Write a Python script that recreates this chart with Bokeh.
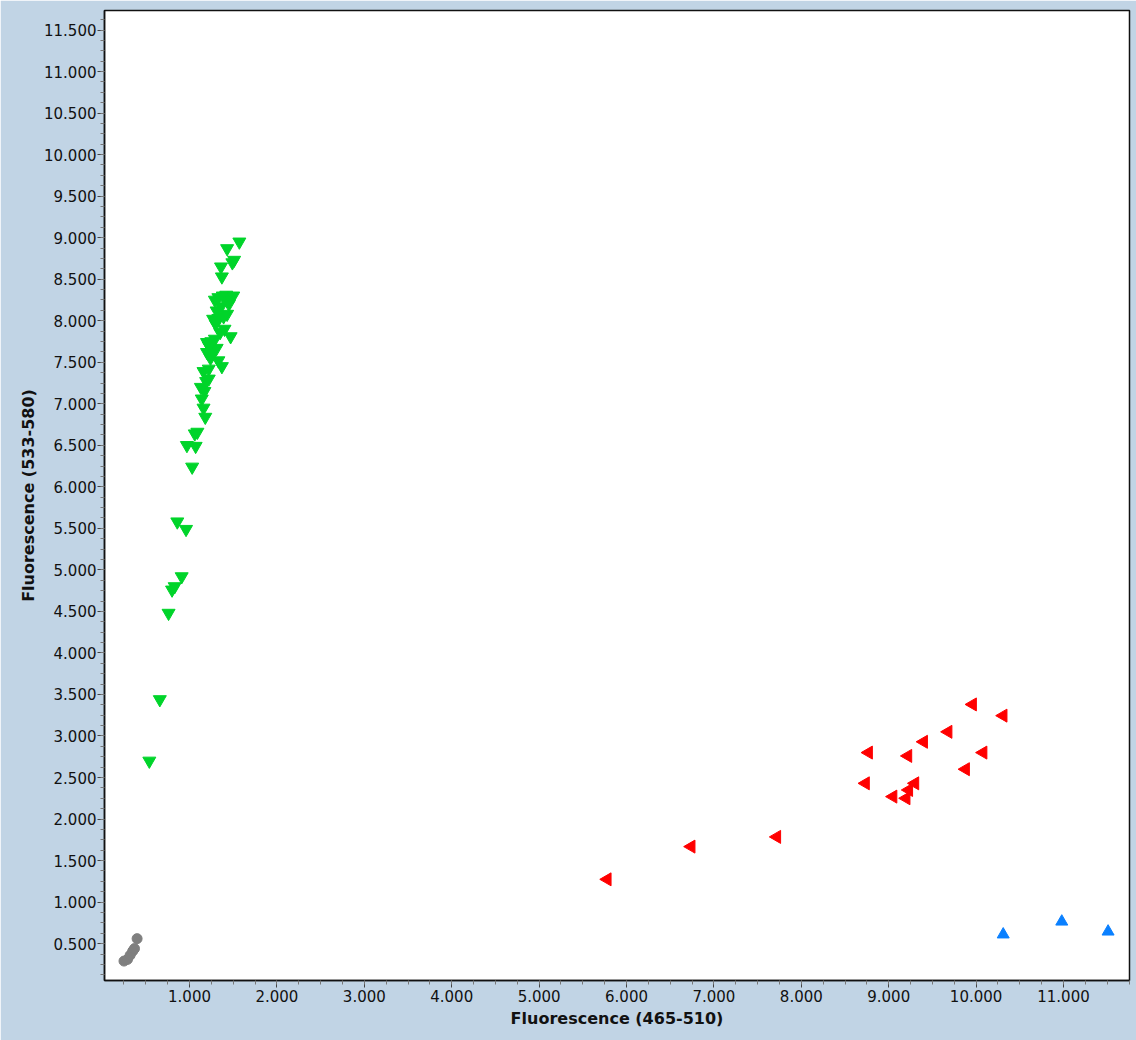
import math
from bokeh.plotting import figure
from bokeh.models import SingleIntervalTicker, NumeralTickFormatter, Range1d
from bokeh.embed import file_html
from bokeh.resources import INLINE

# ---- data ----
gray_x = [0.25, 0.29, 0.32, 0.35, 0.37, 0.40]
gray_y = [0.29, 0.31, 0.36, 0.41, 0.44, 0.56]

green_x = [0.54, 0.66, 0.76, 0.80, 0.83, 0.91, 0.86, 0.96, 1.03, 0.97,
           1.07, 1.09, 1.06, 1.18, 1.16, 1.14, 1.17, 1.13, 1.19, 1.22,
           1.16, 1.22, 1.37, 1.33, 1.24, 1.20, 1.27, 1.31, 1.22, 1.25,
           1.29, 1.20, 1.47, 1.35, 1.40, 1.30, 1.27, 1.33, 1.39, 1.43,
           1.31, 1.36, 1.45, 1.29, 1.33, 1.38, 1.42, 1.46, 1.50, 1.37,
           1.36, 1.49, 1.51, 1.43, 1.57]
green_y = [2.70, 3.44, 4.48, 4.76, 4.80, 4.92, 5.58, 5.49, 6.24, 6.50,
           6.49, 6.66, 6.64, 6.84, 6.95, 7.06, 7.15, 7.20, 7.27, 7.30,
           7.39, 7.42, 7.45, 7.52, 7.55, 7.62, 7.63, 7.67, 7.70, 7.75,
           7.78, 7.74, 7.81, 7.86, 7.90, 7.96, 8.02, 8.03, 8.05, 8.08,
           8.12, 8.17, 8.20, 8.25, 8.28, 8.30, 8.31, 8.29, 8.30, 8.53,
           8.65, 8.70, 8.73, 8.87, 8.95]

red_x = [5.78, 6.74, 7.72, 8.77, 8.735, 9.22, 9.40, 9.68, 9.96, 10.31,
         10.08, 9.88, 9.30, 9.23, 9.05, 9.20]
red_y = [1.274, 1.668, 1.785, 2.80, 2.43, 2.76, 2.93, 3.05, 3.38, 3.245,
         2.80, 2.60, 2.43, 2.35, 2.27, 2.25]

blue_x = [10.31, 10.98, 11.51]
blue_y = [0.61, 0.765, 0.645]

x_label = "Fluorescence (465-510)"
y_label = "Fluorescence (533-580)"

# ---- figure ----
p = figure(width=1136, height=1040,
           x_range=Range1d(0.027, 11.755), y_range=Range1d(0.056, 11.735),
           output_backend="svg", toolbar_location=None,
           min_border_left=104, min_border_right=7,
           min_border_top=10, min_border_bottom=60)
p.background_fill_color = "white"
p.border_fill_color = "#C1D4E5"
p.outline_line_color = "#111111"
p.outline_line_width = 1.5
p.xgrid.visible = False
p.ygrid.visible = False

p.xaxis.ticker = SingleIntervalTicker(interval=1, num_minor_ticks=4)
p.yaxis.ticker = SingleIntervalTicker(interval=0.5, num_minor_ticks=4)
for ax in (p.xaxis, p.yaxis):
    ax.formatter = NumeralTickFormatter(format="0.000")
    ax.axis_line_color = "#111111"
    ax.axis_line_width = 1.5
    ax.major_tick_out = 7
    ax.major_tick_in = 0
    ax.minor_tick_out = 4
    ax.minor_tick_in = 0
    ax.major_tick_line_color = "#444444"
    ax.minor_tick_line_color = "#777777"
    ax.major_label_text_font = "DejaVu Sans"
    ax.major_label_text_font_size = "15px"
    ax.major_label_text_color = "#111111"
    ax.axis_label_text_font = "DejaVu Sans"
    ax.axis_label_text_font_size = "16px"
    ax.axis_label_text_font_style = "bold"
    ax.axis_label_text_color = "#111111"

p.xaxis.axis_label = x_label
p.yaxis.axis_label = y_label
p.xaxis.major_label_standoff = 2
p.yaxis.major_label_standoff = 1
p.xaxis.axis_label_standoff = 4
p.yaxis.axis_label_standoff = 3

p.scatter(gray_x, gray_y, marker="circle", size=10,
          fill_color="#7F7F7F", line_color="#7F7F7F")
p.scatter(green_x, green_y, marker="inverted_triangle", size=13,
          fill_color="#00D42A", line_color="#00D42A")
p.scatter(red_x, red_y, marker="triangle", size=13, angle=math.pi / 2,
          fill_color="#FF0000", line_color="#FF0000")
p.scatter(blue_x, blue_y, marker="triangle", size=12,
          fill_color="#0A80FF", line_color="#0A80FF")

open("out.html", "w").write(file_html(p, INLINE))
